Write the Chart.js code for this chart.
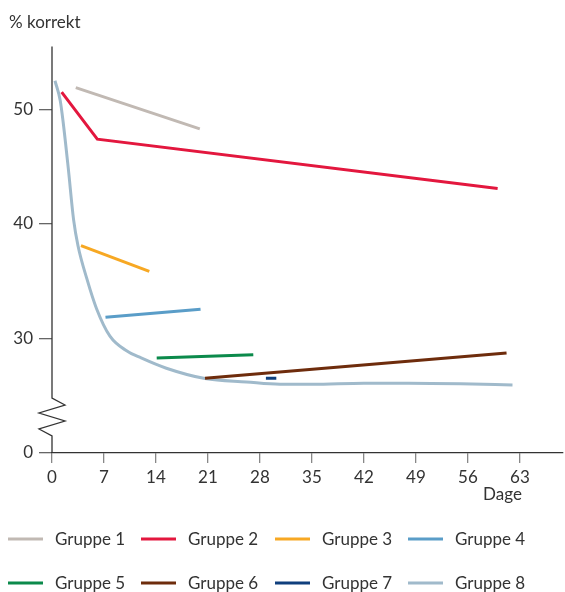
<!DOCTYPE html>
<html>
<head>
<meta charset="utf-8">
<script src="https://cdn.jsdelivr.net/npm/chart.js@4"></script>
<style>
  html, body { margin: 0; padding: 0; background: #fff; }
  #wrap { width: 565px; height: 592px; position: relative; }
</style>
</head>
<body>
<div id="wrap"><canvas id="chart"></canvas></div>
<script>
// values (days, % correct)
const groupNames = ['Gruppe 1', 'Gruppe 2', 'Gruppe 3', 'Gruppe 4', 'Gruppe 5', 'Gruppe 6', 'Gruppe 7', 'Gruppe 8'];
const groupColors = ['#c1b9b3', '#e3173e', '#f7a823', '#5a9dc8', '#0b8a4b', '#6e2c0c', '#0f3f7d', '#a0bacb'];

const g1Day = [3.2, 19.9];
const g1Pct = [51.9, 48.3];
const g2Day = [1.3, 6.1, 60.0];
const g2Pct = [51.5, 47.4, 43.1];
const g3Day = [3.9, 13.1];
const g3Pct = [38.1, 35.85];
const g4Day = [7.2, 20.0];
const g4Pct = [31.85, 32.55];
const g5Day = [14.1, 27.1];
const g5Pct = [28.3, 28.58];
const g6Day = [20.6, 61.2];
const g6Pct = [26.52, 28.73];
const g7Day = [28.8, 30.2];
const g7Pct = [26.52, 26.52];
const g8Day = [0.4, 1.1, 1.5, 2.2, 2.9, 3.5, 4.7, 6.0, 7.8, 10.1, 12.0, 15.4, 20.6, 26.2, 30.7, 35.1, 42, 48, 55, 62];
const g8Pct = [52.5, 50.8, 48.9, 44.8, 40.4, 38.1, 35.2, 32.6, 30.2, 28.9, 28.3, 27.4, 26.5, 26.2, 26.0, 26.0, 26.1, 26.1, 26.05, 25.94];

const xTicks = [0, 7, 14, 21, 28, 35, 42, 49, 56, 63];
const yTicks = [20, 30, 40, 50];
const yTickLabels = ['0', '30', '40', '50'];

const allDays = [g1Day, g2Day, g3Day, g4Day, g5Day, g6Day, g7Day, g8Day];
const allPcts = [g1Pct, g2Pct, g3Pct, g4Pct, g5Pct, g6Pct, g7Pct, g8Pct];

function toPoints(days, pcts) {
  return days.map((d, i) => ({ x: d, y: pcts[i] }));
}

const datasets = groupNames.map((name, i) => ({
  label: name,
  data: toPoints(allDays[i], allPcts[i]),
  borderColor: groupColors[i],
  backgroundColor: groupColors[i],
  borderWidth: 3,
  pointRadius: 0,
  fill: false,
  cubicInterpolationMode: i === 7 ? 'monotone' : 'default',
  tension: 0
}));

Chart.defaults.font.family = 'Lato';
Chart.defaults.font.size = 17;
Chart.defaults.color = '#333';

// y axis line with the zigzag break, the "Dage" label and the two-row legend
const extras = {
  id: 'extras',
  afterDraw(chart) {
    const ctx = chart.ctx;
    const area = chart.chartArea;
    const x0 = area.left;
    const b = area.bottom;
    ctx.save();
    ctx.strokeStyle = '#333';
    ctx.lineWidth = 1.3;
    ctx.beginPath();
    ctx.moveTo(x0, area.top);
    ctx.lineTo(x0, b - 55);
    ctx.lineTo(x0 + 13, b - 48);
    ctx.lineTo(x0 - 13, b - 40);
    ctx.lineTo(x0 + 13, b - 32);
    ctx.lineTo(x0 - 13, b - 24);
    ctx.lineTo(x0, b - 17);
    ctx.lineTo(x0, b);
    ctx.stroke();

    ctx.fillStyle = '#333';
    ctx.font = '17px Lato';
    ctx.textAlign = 'right';
    ctx.textBaseline = 'alphabetic';
    ctx.fillText('Dage', chart.scales.x.getPixelForValue(63) + 2, b + 47);

    ctx.textAlign = 'left';
    ctx.textBaseline = 'middle';
    const colX = [8, 141, 275, 408];
    const rowY = [539, 583];
    chart.data.datasets.forEach((ds, i) => {
      const lx = colX[i % 4];
      const ly = rowY[Math.floor(i / 4)];
      ctx.strokeStyle = ds.borderColor;
      ctx.lineWidth = 3;
      ctx.beginPath();
      ctx.moveTo(lx, ly);
      ctx.lineTo(lx + 35, ly);
      ctx.stroke();
      ctx.fillStyle = '#333';
      ctx.fillText(ds.label, lx + 47, ly + 1);
    });
    ctx.restore();
  }
};

new Chart(document.getElementById('chart'), {
  type: 'line',
  data: { datasets: datasets },
  plugins: [extras],
  options: {
    responsive: true,
    maintainAspectRatio: false,
    animation: false,
    layout: { padding: { left: 9, right: 2, top: 0, bottom: 0 } },
    plugins: {
      legend: { display: false },
      tooltip: { enabled: false },
      title: {
        display: true,
        text: '% korrekt',
        align: 'start',
        color: '#333',
        font: { size: 17, weight: 'normal' },
        padding: { top: 12, bottom: 14 }
      }
    },
    scales: {
      x: {
        type: 'linear',
        min: 0,
        max: 68.8,
        afterFit: (scale) => { scale.height = 139; },
        afterBuildTicks: (scale) => { scale.ticks = xTicks.map(v => ({ value: v })); },
        ticks: { padding: 4, color: '#333', maxRotation: 0 },
        grid: { drawOnChartArea: false, drawTicks: true, tickLength: 10, color: '#888', lineWidth: 1.3 },
        border: { display: true, color: '#333', width: 1.3 }
      },
      y: {
        type: 'linear',
        min: 20,
        max: 55.5,
        afterFit: (scale) => { scale.width = 43; },
        afterBuildTicks: (scale) => { scale.ticks = yTicks.map(v => ({ value: v })); },
        ticks: {
          padding: 6,
          color: '#333',
          callback: (v) => yTickLabels[yTicks.indexOf(v)]
        },
        grid: { drawOnChartArea: false, drawTicks: true, tickLength: 13, color: '#666', lineWidth: 1.3 },
        border: { display: false }
      }
    }
  }
});
</script>
</body>
</html>
